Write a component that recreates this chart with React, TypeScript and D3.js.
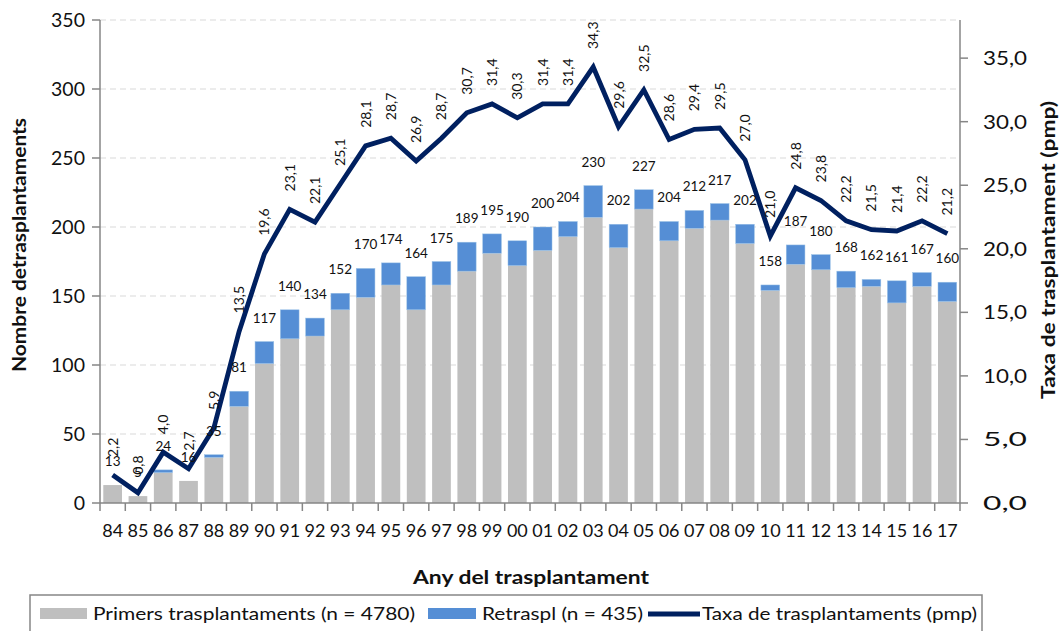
import React from 'react';
import * as d3 from 'd3';

const years = ['84','85','86','87','88','89','90','91','92','93','94','95','96','97','98','99','00','01','02','03','04','05','06','07','08','09','10','11','12','13','14','15','16','17'];
const totals = [13,5,24,16,35,81,117,140,134,152,170,174,164,175,189,195,190,200,204,230,202,227,204,212,217,202,158,187,180,168,162,161,167,160];
const primers = [13,5,22,16,33,70,101,119,121,140,149,158,140,158,168,181,172,183,193,207,185,213,190,199,205,188,154,173,169,156,157,145,157,146];
const rates = [2.2,0.8,4.0,2.7,5.9,13.5,19.6,23.1,22.1,25.1,28.1,28.7,26.9,28.7,30.7,31.4,30.3,31.4,31.4,34.3,29.6,32.5,28.6,29.4,29.5,27.0,21.0,24.8,23.8,22.2,21.5,21.4,22.2,21.2];
const leftTicks = [0,50,100,150,200,250,300,350];
const rightTicks = [0,5,10,15,20,25,30,35];

const W = 1059;
const H = 631;
const left = 100;
const right = 960;
const top = 20;
const bottom = 503;
const font = 'Lato, "Open Sans", sans-serif';

const App: React.FC = () => {
  const x = d3.scaleBand<string>().domain(years).range([left, right]).paddingInner(0.26).paddingOuter(0.13);
  const step = x.step();
  const yL = d3.scaleLinear().domain([0, 350]).range([bottom, top]);
  const yR = d3.scaleLinear().domain([0, 38]).range([bottom, top]);
  const fmt = (v: number) => v.toFixed(1).replace('.', ',');

  const line = d3.line<number>()
    .x((_, i) => (x(years[i]) as number) + x.bandwidth() / 2)
    .y(d => yR(d));

  return (
    <svg width={W} height={H} style={{ position: 'absolute', left: 0, top: 0, background: '#fff' }} fontFamily={font}>
      {/* gridlines */}
      {leftTicks.slice(1).map(t => (
        <line key={'g' + t} x1={left} x2={right} y1={yL(t)} y2={yL(t)} stroke="#d9d9d9" strokeDasharray="6,4" strokeWidth={1.2} />
      ))}

      {/* bars */}
      {years.map((yr, i) => {
        const bx = x(yr) as number;
        return (
          <g key={'b' + yr}>
            <rect x={bx} width={x.bandwidth()} y={yL(primers[i])} height={yL(0) - yL(primers[i])} fill="#bfbfbf" />
            {totals[i] > primers[i] && (
              <rect x={bx} width={x.bandwidth()} y={yL(totals[i])} height={yL(primers[i]) - yL(totals[i])} fill="#558ed5" stroke="#9dc3e6" strokeWidth={0.5} />
            )}
          </g>
        );
      })}

      {/* rate line */}
      <path d={line(rates) || ''} fill="none" stroke="#002060" strokeWidth={4.8} strokeLinejoin="miter" />

      {/* bar labels */}
      {years.map((yr, i) => (
        <text key={'lb' + yr} x={(x(yr) as number) + x.bandwidth() / 2} y={yL(totals[i]) - 19} textAnchor="middle" fontSize={13.5} fill="#111">
          {totals[i]}
        </text>
      ))}

      {/* rate labels */}
      {years.map((yr, i) => {
        const cx = (x(yr) as number) + x.bandwidth() / 2 + 5;
        const cy = yR(rates[i]) - 18;
        return (
          <text key={'lr' + yr} transform={`translate(${cx},${cy}) rotate(-90)`} fontSize={14} fill="#111">
            {fmt(rates[i])}
          </text>
        );
      })}

      {/* axes */}
      <line x1={left} x2={left} y1={top} y2={bottom} stroke="#868686" strokeWidth={1.5} />
      <line x1={right} x2={right} y1={top} y2={bottom} stroke="#868686" strokeWidth={1.5} />
      <line x1={left} x2={right} y1={bottom} y2={bottom} stroke="#868686" strokeWidth={1.5} />

      {leftTicks.map(t => (
        <g key={'lt' + t}>
          <line x1={left - 8} x2={left} y1={yL(t)} y2={yL(t)} stroke="#868686" strokeWidth={1.5} />
          <text x={85} y={yL(t)} dy="0.35em" textAnchor="end" fontSize={19.5} fill="#111">{t}</text>
        </g>
      ))}
      {rightTicks.map(t => (
        <g key={'rt' + t}>
          <line x1={right} x2={right + 8} y1={yR(t)} y2={yR(t)} stroke="#868686" strokeWidth={1.5} />
          <text x={983} y={yR(t)} dy="0.35em" textAnchor="start" fontSize={19.5} textLength={44} lengthAdjust="spacingAndGlyphs" fill="#111">{fmt(t)}</text>
        </g>
      ))}
      {d3.range(years.length + 1).map(i => (
        <line key={'xt' + i} x1={left + i * step} x2={left + i * step} y1={bottom} y2={bottom + 8} stroke="#868686" strokeWidth={1.5} />
      ))}
      {years.map(yr => (
        <text key={'xl' + yr} x={(x(yr) as number) + x.bandwidth() / 2} y={531} dy="0.35em" textAnchor="middle" fontSize={18} fill="#111">{yr}</text>
      ))}

      {/* axis titles */}
      <text x={531} y={577} dy="0.35em" textAnchor="middle" fontSize={19} fontWeight="bold" textLength={236} lengthAdjust="spacingAndGlyphs" fill="#111">Any del trasplantament</text>
      <text transform={`translate(20,245) rotate(-90)`} dy="0.35em" textAnchor="middle" fontSize={18} fontWeight="bold" textLength={254} lengthAdjust="spacingAndGlyphs" fill="#111">Nombre detrasplantaments</text>
      <text transform={`translate(1049,250) rotate(-90)`} dy="0.35em" textAnchor="middle" fontSize={18} fontWeight="bold" textLength={298} lengthAdjust="spacingAndGlyphs" fill="#111">Taxa de trasplantament (pmp)</text>

      {/* legend */}
      <rect x={30} y={595} width={952} height={45} fill="none" stroke="#868686" strokeWidth={1.5} />
      <rect x={40} y={608} width={47} height={11} fill="#bfbfbf" />
      <text x={93} y={614} dy="0.35em" fontSize={18} textLength={322} lengthAdjust="spacingAndGlyphs" fill="#111">Primers trasplantaments (n = 4780)</text>
      <rect x={428} y={608} width={48} height={11} fill="#558ed5" />
      <text x={482} y={614} dy="0.35em" fontSize={18} textLength={161} lengthAdjust="spacingAndGlyphs" fill="#111">Retraspl (n = 435)</text>
      <line x1={648} x2={700} y1={614} y2={614} stroke="#002060" strokeWidth={4.8} />
      <text x={702} y={614} dy="0.35em" fontSize={18} textLength={275} lengthAdjust="spacingAndGlyphs" fill="#111">Taxa de trasplantaments (pmp)</text>
    </svg>
  );
};

export default App;
